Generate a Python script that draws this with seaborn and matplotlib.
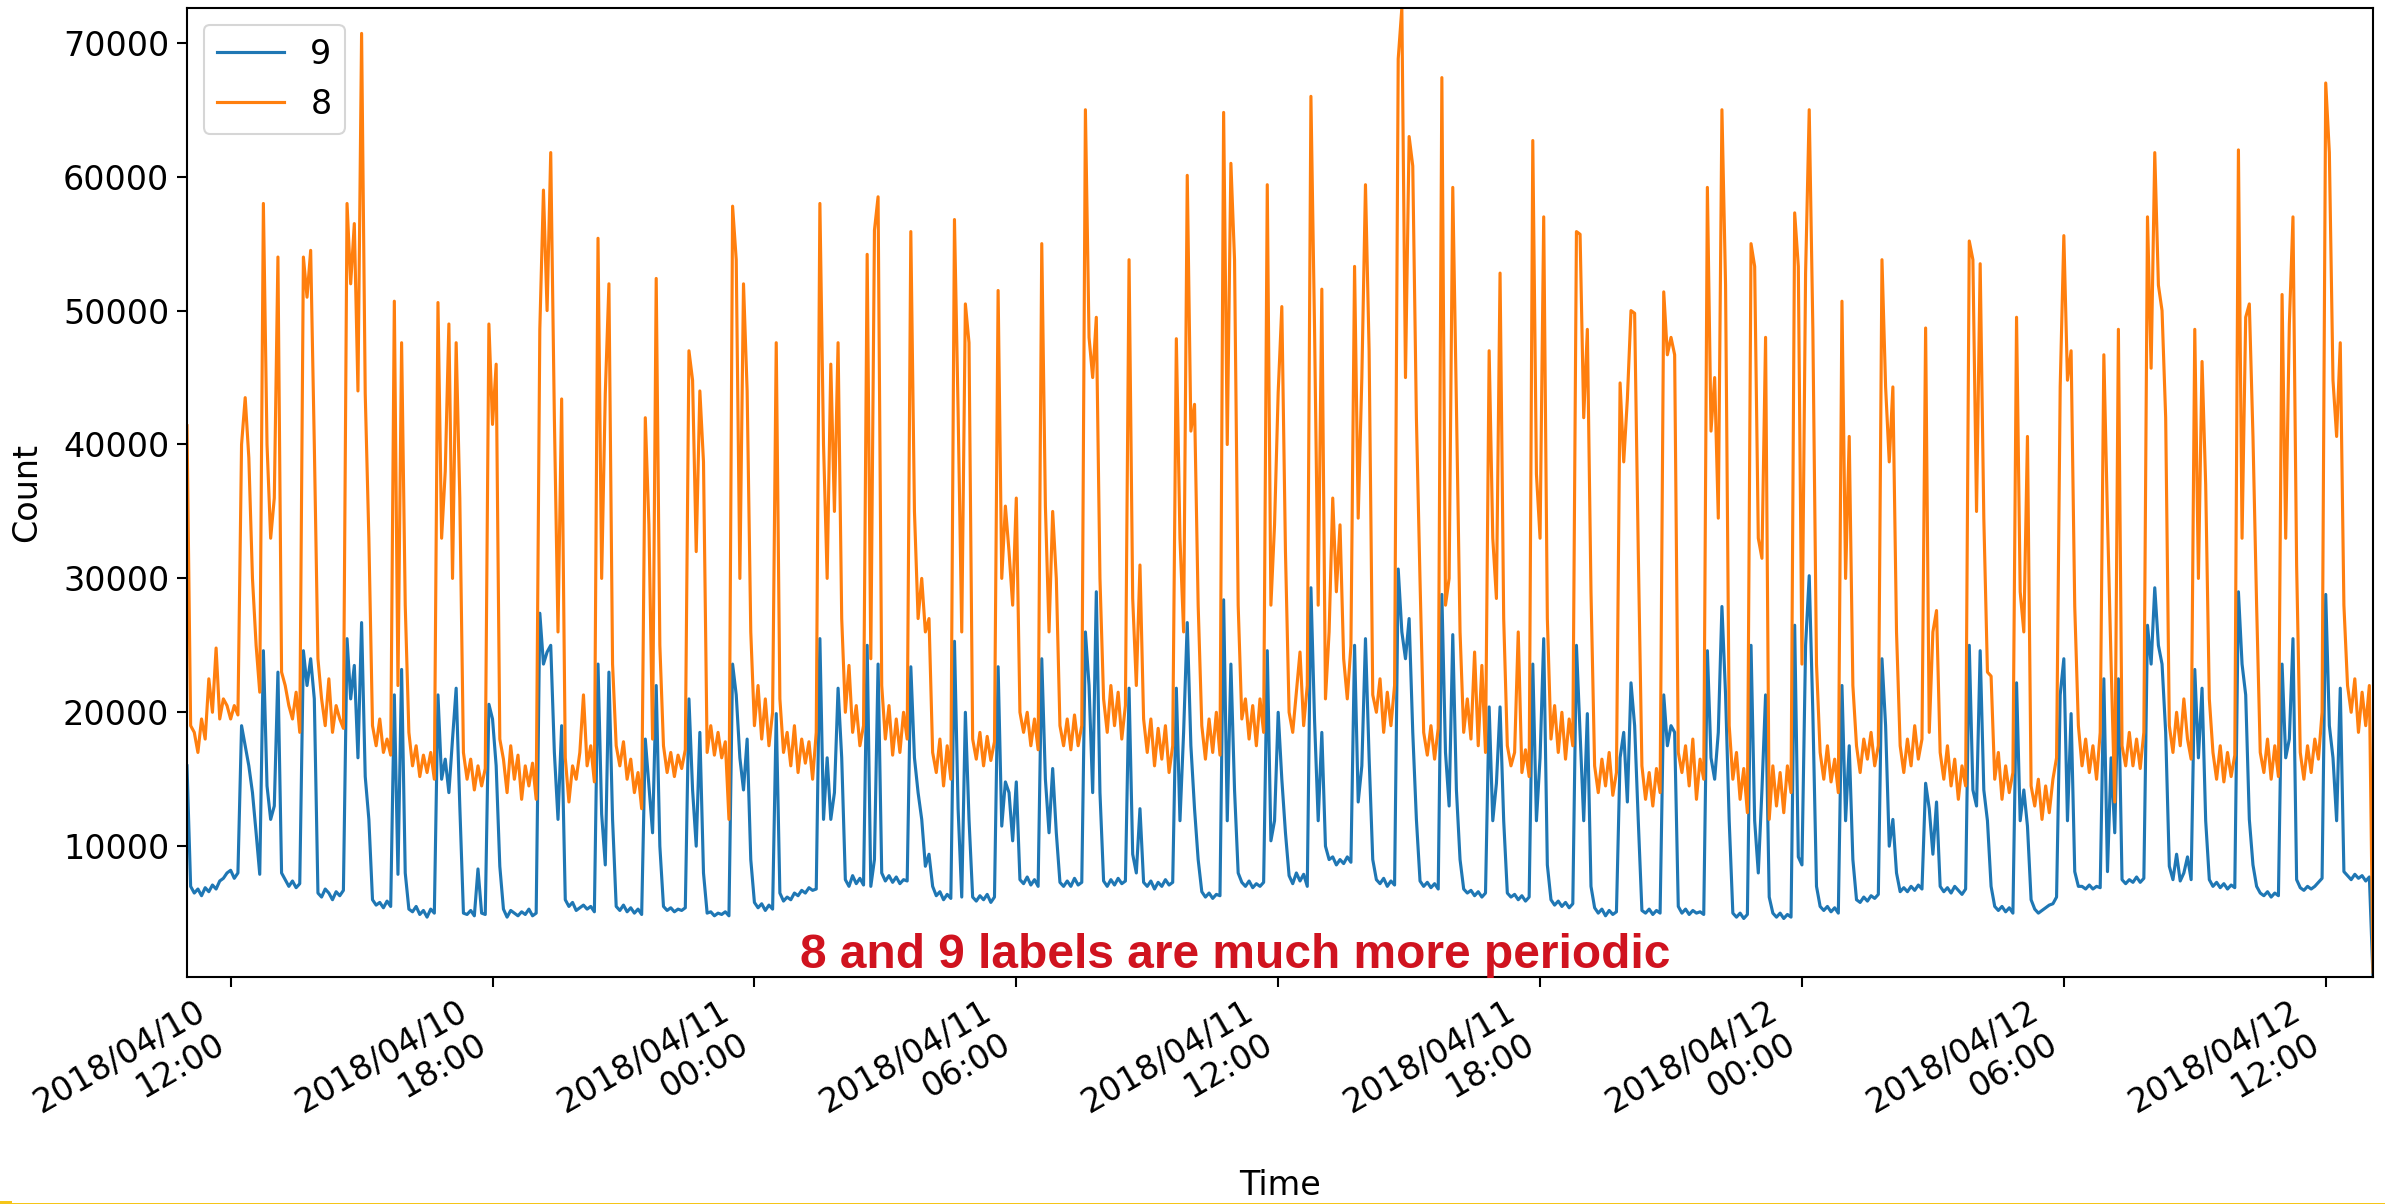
import matplotlib
matplotlib.use("Agg")
import numpy as np
import pandas as pd
import matplotlib.pyplot as plt
import matplotlib.dates as mdates
from matplotlib.patches import Rectangle
import seaborn as sns

# ---------------- data (5-minute samples) ----------------
start_time = "2018-04-10 11:00"
sample_freq = "5min"
series_names = ["9", "8"]
series_colors = ["#1f77b4", "#ff7f0e"]

label_9 = [
    16000, 7000, 6500, 6800, 6300, 6900, 6600, 7100, 6800, 7400, 7600, 8000,          # 11h
    8200, 7600, 8000, 19000, 17500, 16000, 14000, 11000, 7900, 24600, 14500, 12000,   # 12h
    13000, 23000, 8000, 7500, 7000, 7400, 6900, 7200, 24600, 22000, 24000, 21000,     # 13h
    6500, 6200, 6800, 6500, 6000, 6600, 6300, 6700, 25500, 21000, 23500, 16600,       # 14h
    26700, 15200, 12000, 6000, 5600, 5800, 5400, 5900, 5500, 21300, 7900, 23200,      # 15h
    8000, 5300, 5100, 5500, 4900, 5200, 4700, 5300, 5000, 21300, 15000, 16500,        # 16h
    14000, 18000, 21800, 13000, 5000, 4900, 5200, 4800, 8300, 5000, 4900, 20600,      # 17h
    19500, 16000, 8500, 5300, 4700, 5200, 5000, 4800, 5100, 4900, 5300, 4800,         # 18h
    5000, 27400, 23600, 24500, 25000, 17000, 12000, 19000, 6000, 5500, 5800, 5200,    # 19h
    5400, 5600, 5300, 5500, 5100, 23600, 12400, 8600, 23000, 12000, 5500, 5200,       # 20h
    5600, 5100, 5400, 5000, 5300, 4900, 18000, 14500, 11000, 22000, 10000, 5500,      # 21h
    5200, 5400, 5100, 5300, 5200, 5400, 21000, 14200, 10000, 18500, 8000, 5000,       # 22h
    5100, 4800, 5000, 4900, 5100, 4800, 23600, 21300, 16600, 14200, 18000, 9000,      # 23h
    5800, 5400, 5700, 5200, 5600, 5300, 19900, 6500, 5900, 6200, 6000, 6500,          # 00h
    6300, 6700, 6500, 6900, 6700, 6800, 25500, 12000, 16600, 12000, 14000, 21800,     # 01h
    16600, 7500, 7000, 7800, 7200, 7600, 7100, 25000, 7000, 9000, 23600, 8000,        # 02h
    7400, 7800, 7300, 7700, 7200, 7500, 7400, 23400, 16600, 14000, 12000, 8500,       # 03h
    9400, 7000, 6300, 6600, 6000, 6400, 6100, 25300, 12800, 6200, 20000, 12000,       # 04h
    6200, 5900, 6300, 6000, 6400, 5800, 6200, 23400, 11500, 14800, 14000, 10400,      # 05h
    14800, 7500, 7200, 7700, 7100, 7500, 7000, 24000, 15000, 11000, 15800, 11000,     # 06h
    7300, 7000, 7400, 7000, 7600, 7100, 7300, 26000, 22000, 14000, 29000, 14000,      # 07h
    7400, 7000, 7500, 7100, 7600, 7200, 7400, 21800, 9400, 8000, 12800, 7300,         # 08h
    7000, 7400, 6800, 7300, 7000, 7500, 7100, 7300, 21800, 11900, 18500, 26700,       # 09h
    17500, 12800, 9000, 6600, 6200, 6500, 6100, 6400, 6300, 28400, 11900, 23600,      # 10h
    14200, 8000, 7300, 7000, 7400, 6900, 7200, 7000, 7300, 24600, 10400, 11900,       # 11h
    20000, 15000, 11000, 7800, 7200, 8000, 7400, 7900, 7000, 29300, 19400, 11900,     # 12h
    18500, 10000, 9000, 9200, 8600, 9000, 8700, 9200, 8800, 25000, 13300, 16000,      # 13h
    25500, 16600, 9000, 7500, 7200, 7600, 7000, 7400, 7100, 30700, 26000, 24000,      # 14h
    27000, 18500, 12000, 7400, 7000, 7300, 6900, 7200, 6800, 28800, 17000, 13000,     # 15h
    25800, 14200, 9000, 6800, 6500, 6700, 6300, 6600, 6200, 6500, 20400, 11900,       # 16h
    14700, 20400, 11900, 6500, 6200, 6400, 6000, 6300, 5900, 6200, 23600, 11900,      # 17h
    16600, 25500, 8600, 6000, 5600, 5900, 5500, 5800, 5400, 5700, 25000, 18500,       # 18h
    11900, 19900, 7000, 5400, 5000, 5300, 4800, 5200, 4900, 5100, 16600, 18500,       # 19h
    13300, 22200, 19000, 11900, 5200, 5000, 5300, 4900, 5200, 5000, 21300, 17500,     # 20h
    19000, 18500, 5500, 5000, 5300, 4900, 5200, 5000, 5100, 4900, 24600, 16600,       # 21h
    15000, 18500, 27900, 21300, 11900, 5000, 4700, 5000, 4600, 4900, 25000, 11900,    # 22h
    8000, 14200, 21300, 6200, 5000, 4700, 5000, 4600, 4900, 4700, 26500, 9200,        # 23h
    8600, 25000, 30200, 19900, 7000, 5500, 5200, 5500, 5100, 5400, 5000, 22000,       # 00h
    11900, 17500, 9000, 6000, 5800, 6200, 5900, 6300, 6100, 6400, 24000, 19000,       # 01h
    10000, 12000, 8000, 6600, 6900, 6600, 7000, 6700, 7100, 6800, 14700, 12800,       # 02h
    9400, 13300, 7000, 6600, 6900, 6500, 7000, 6700, 6400, 6800, 25000, 14200,       # 03h
    13000, 24600, 14200, 11900, 7000, 5500, 5200, 5500, 5100, 5400, 5000, 22200,      # 04h
    11900, 14200, 11500, 6000, 5300, 5000, 5200, 5400, 5600, 5700, 6200, 21300,      # 05h
    24000, 11900, 19900, 8100, 7000, 7000, 6800, 7100, 6800, 7000, 6900, 22500,       # 06h
    8100, 16600, 11000, 22500, 7500, 7200, 7500, 7300, 7700, 7300, 7600, 26500,       # 07h
    23600, 29300, 25000, 23600, 18500, 8500, 7500, 9400, 7400, 8000, 9200, 7500,      # 08h
    23200, 16600, 21800, 11900, 7500, 7000, 7300, 6900, 7200, 6800, 7100, 6900,       # 09h
    29000, 23600, 21300, 12000, 8600, 7000, 6500, 6300, 6600, 6200, 6500, 6300,       # 10h
    23600, 16600, 18000, 25500, 7500, 6900, 6700, 7000, 6800, 7000, 7300, 7600,       # 11h
    28800, 19000, 16600, 11900, 21800, 8100, 7800, 7500, 7900, 7600, 7800, 7400,      # 12h
    7700, 230,                                                                         # 13h
]

label_8 = [
    41400, 19000, 18500, 17000, 19500, 18000, 22500, 20000, 24800, 19500, 21000, 20500,  # 11h
    19500, 20500, 19800, 40000, 43500, 39000, 30000, 25000, 21500, 58000, 40000, 33000,  # 12h
    36000, 54000, 23000, 22000, 20500, 19500, 21500, 18500, 54000, 51000, 54500, 40000,  # 13h
    24000, 21000, 19000, 22500, 18500, 20500, 19500, 18800, 58000, 52000, 56500, 44000,  # 14h
    70700, 43800, 33000, 19000, 17500, 19500, 17000, 18000, 16800, 50700, 22000, 47600,  # 15h
    28000, 18500, 16000, 17500, 15200, 16800, 15500, 17000, 15000, 50600, 33000, 38000,  # 16h
    49000, 30000, 47600, 36000, 17000, 15000, 16500, 14200, 16000, 14500, 15800, 49000,  # 17h
    41500, 46000, 18000, 16500, 14000, 17500, 15000, 16800, 13500, 16000, 14500, 16200,  # 18h
    13500, 48600, 59000, 50000, 61800, 42000, 26000, 43400, 16600, 13300, 16000, 15000,  # 19h
    17000, 21300, 16000, 17500, 14800, 55400, 30000, 43800, 52000, 23600, 17500, 16000,  # 20h
    17800, 15000, 16500, 14000, 15500, 12800, 42000, 34000, 18000, 52400, 25000, 17500,  # 21h
    15500, 17000, 15200, 16800, 15800, 17200, 47000, 44800, 32000, 44000, 38700, 17000,  # 22h
    19000, 16800, 18500, 16600, 17800, 12000, 57800, 53800, 30000, 52000, 44000, 26000,  # 23h
    19000, 22000, 18000, 21000, 17500, 20000, 47600, 21000, 17000, 18500, 16000, 19000,  # 00h
    15500, 18000, 16200, 17800, 15000, 18500, 58000, 40000, 30000, 46000, 35000, 47600,  # 01h
    27000, 20000, 23500, 18500, 20500, 17500, 19000, 54200, 24000, 56000, 58500, 22000,  # 02h
    18000, 20500, 16800, 19500, 17000, 20000, 18000, 55900, 35000, 27000, 30000, 26000,  # 03h
    27000, 17000, 15500, 18000, 14500, 17500, 15000, 56800, 42500, 26000, 50500, 47600,  # 04h
    18000, 16500, 18500, 16000, 18200, 16400, 17800, 51500, 30000, 35400, 32000, 28000,  # 05h
    36000, 20000, 18500, 20000, 17500, 19500, 17200, 55000, 35400, 26000, 35000, 30000,  # 06h
    19000, 17500, 19500, 17200, 19800, 17500, 19000, 65000, 48000, 45000, 49500, 30000,  # 07h
    21000, 18500, 22000, 19000, 21500, 18000, 20500, 53800, 28500, 22000, 31000, 19500,  # 08h
    17000, 19500, 16000, 18800, 16500, 19000, 15500, 17500, 47900, 33000, 26000, 60100,  # 09h
    41000, 43000, 28000, 19000, 16500, 19500, 17000, 20000, 16800, 64800, 40000, 61000,  # 10h
    53800, 28000, 19500, 21000, 18000, 20500, 17500, 21000, 18500, 59400, 28000, 34000,  # 11h
    43900, 50300, 32000, 20000, 18500, 21500, 24500, 19000, 22000, 66000, 48600, 28000,  # 12h
    51600, 21000, 26000, 36000, 29000, 34000, 24000, 21000, 25000, 53300, 34500, 45000,  # 13h
    59400, 47000, 21300, 20000, 22500, 18500, 21500, 19000, 22000, 68800, 72600, 45000,  # 14h
    63000, 60800, 42000, 29800, 18500, 16800, 19000, 16500, 18800, 67400, 28000, 30000,  # 15h
    59200, 43000, 26000, 18500, 21000, 18000, 24500, 17500, 23500, 17000, 47000, 33000,  # 16h
    28500, 52800, 27000, 17500, 16000, 17000, 26000, 15500, 17200, 15200, 62700, 37800,  # 17h
    33000, 57000, 27000, 18000, 20500, 17000, 20000, 16500, 19500, 17500, 55900, 55700,  # 18h
    42000, 48600, 29000, 16000, 14000, 16500, 14500, 17000, 13800, 15500, 44600, 38700,  # 19h
    43400, 50000, 49800, 32000, 16000, 13500, 15500, 13000, 15800, 14000, 51400, 46700,  # 20h
    48000, 46700, 17000, 15500, 17500, 14500, 18000, 13500, 16500, 15000, 59200, 41000,  # 21h
    45000, 34500, 65000, 51900, 19000, 15000, 17000, 13500, 15800, 12500, 55000, 53300,  # 22h
    33000, 31500, 48000, 12000, 16000, 13000, 15500, 12500, 16000, 14000, 57300, 53300,  # 23h
    23600, 52800, 65000, 48600, 23600, 17000, 15000, 17500, 14800, 16500, 14000, 50700,  # 00h
    30000, 40600, 22000, 17500, 15500, 18000, 16500, 18500, 16000, 17500, 53800, 44300,  # 01h
    38700, 44300, 26000, 17500, 15500, 18000, 16000, 19000, 16500, 18000, 48700, 18500,  # 02h
    26000, 27600, 17000, 15000, 17500, 14500, 16500, 13500, 16000, 14500, 55200, 53800,  # 03h
    35000, 53500, 34500, 23000, 22700, 15000, 17000, 13500, 16000, 14000, 15500, 49500,  # 04h
    29000, 26000, 40600, 14500, 13000, 15000, 12000, 14500, 12500, 15000, 16600, 44300,  # 05h
    55600, 44800, 47000, 27900, 19000, 16000, 18000, 15500, 17500, 15000, 18500, 46700,  # 06h
    34500, 23600, 13300, 48600, 17500, 16000, 18500, 16000, 18000, 15800, 18500, 57000,  # 07h
    45700, 61800, 51900, 50000, 42000, 19000, 17000, 20000, 17500, 21000, 18000, 16500,  # 08h
    48600, 30000, 46200, 37000, 21000, 17000, 15000, 17500, 14800, 17000, 15200, 16800,  # 09h
    62000, 33000, 49500, 50500, 40600, 28000, 17000, 15500, 18000, 15000, 17500, 15200,  # 10h
    51200, 33000, 49000, 57000, 31000, 17000, 15000, 17500, 15500, 18000, 16500, 20000,  # 11h
    67000, 61800, 44800, 40600, 47600, 28000, 22000, 20000, 22500, 18500, 21500, 19000,  # 12h
    22000, 600,                                                                           # 13h
]

annotation_text = "8 and 9 labels are much more periodic"

# ---------------- build long-form table ----------------
times = pd.date_range(start_time, periods=len(label_9), freq=sample_freq)
df = pd.concat(
    [
        pd.DataFrame({"Time": times, "Count": label_9, "label": series_names[0]}),
        pd.DataFrame({"Time": times, "Count": label_8, "label": series_names[1]}),
    ],
    ignore_index=True,
)

# ---------------- figure ----------------
W, H, DPI = 2385, 1204, 150
fig = plt.figure(figsize=(W / DPI, H / DPI), dpi=DPI)
fig.patch.set_facecolor("white")
ax_l, ax_r, ax_t, ax_b = 187, 2373, 8, 977
ax = fig.add_axes([ax_l / W, 1 - ax_b / H, (ax_r - ax_l) / W, (ax_b - ax_t) / H])

sns.lineplot(
    data=df, x="Time", y="Count", hue="label", hue_order=series_names,
    palette=series_colors, estimator=None, linewidth=1.5, ax=ax,
)

ax.set_xlim(times[0], times[-1])
ax.set_ylim(min(min(label_9), min(label_8)), max(max(label_9), max(label_8)))

ax.xaxis.set_major_locator(mdates.HourLocator(byhour=[0, 6, 12, 18]))
ax.xaxis.set_major_formatter(mdates.DateFormatter("%Y/%m/%d\n%H:%M"))
ax.tick_params(axis="both", labelsize=16, length=5, width=1.0)
for lbl in ax.get_xticklabels():
    lbl.set_rotation(30)
    lbl.set_ha("right")
for s in ax.spines.values():
    s.set_linewidth(1.0)

ax.set_xlabel("Time", fontsize=16)
ax.set_ylabel("Count", fontsize=16)
ax.xaxis.set_label_coords(0.5, -0.198)
ax.yaxis.set_label_coords(-0.066, 0.5)

handles, labels = ax.get_legend_handles_labels()
ax.legend(handles, labels, loc="upper left", fontsize=16, frameon=True)

ax.text(0.4795, 0.022, annotation_text, transform=ax.transAxes, ha="center",
        va="center", fontsize=23, fontweight="bold", color="#d0131f",
        family=["Liberation Sans", "DejaVu Sans"])

# thin yellow strip along the bottom edge of the image
fig.add_artist(Rectangle((0, 0), 1, 1.5 / H, transform=fig.transFigure,
                         color="#f5c518", lw=0))
fig.add_artist(Rectangle((0, 0), 12 / W, 3 / H, transform=fig.transFigure,
                         color="#f5c518", lw=0))

fig.savefig("out.png", dpi=DPI, facecolor="white")
